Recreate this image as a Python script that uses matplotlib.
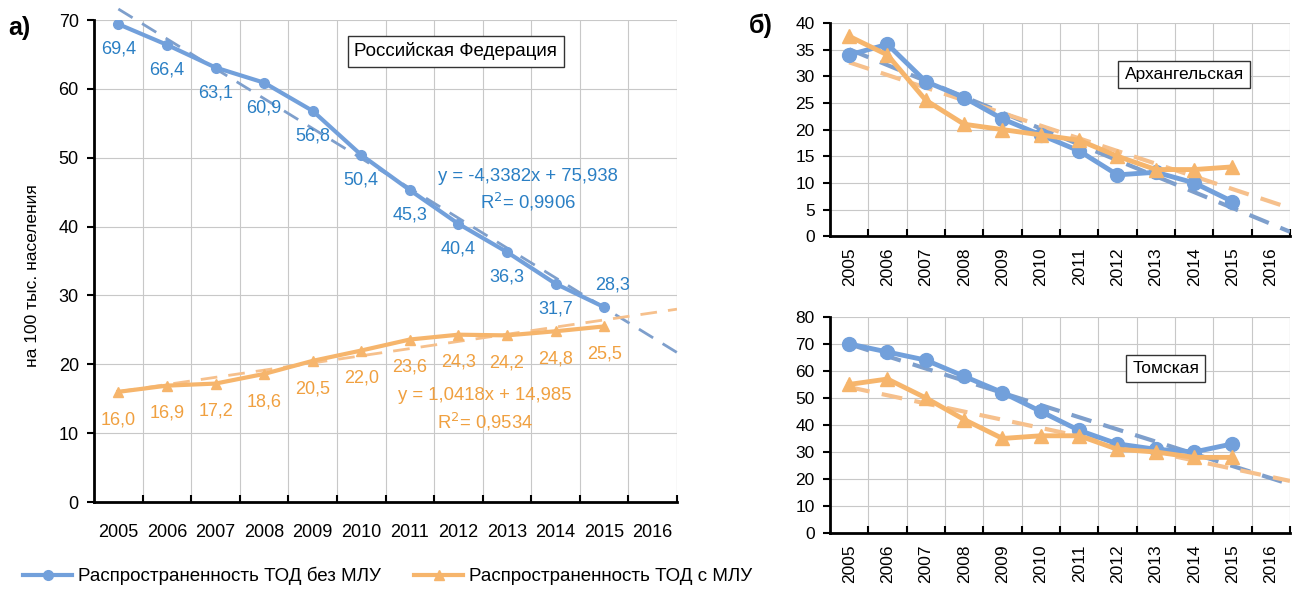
import numpy as np
import matplotlib.pyplot as plt
from matplotlib.lines import Line2D

# ==========================================
# ДАННЫЕ
# ==========================================
years = ['2005', '2006', '2007', '2008', '2009', '2010',
         '2011', '2012', '2013', '2014', '2015', '2016']

# а) Российская Федерация
rf_bez_mlu = [69.4, 66.4, 63.1, 60.9, 56.8, 50.4, 45.3, 40.4, 36.3, 31.7, 28.3]
rf_s_mlu = [16.0, 16.9, 17.2, 18.6, 20.5, 22.0, 23.6, 24.3, 24.2, 24.8, 25.5]
rf_trend_bez = (-4.3382, 75.938, 0.9906)
rf_trend_s = (1.0418, 14.985, 0.9534)

# б) Архангельская
arh_bez_mlu = [34, 36, 29, 26, 22, 19, 16, 11.5, 12, 10, 6.5]
arh_s_mlu = [37.5, 34, 25.5, 21, 20, 19, 18, 15, 12.5, 12.5, 13]

# б) Томская
tom_bez_mlu = [70, 67, 64, 58, 52, 45, 38, 33, 31, 30, 33]
tom_s_mlu = [55, 57, 50, 42, 35, 36, 36, 31, 30, 28, 28]

# ==========================================
# СТИЛЬ
# ==========================================
plt.rcParams['font.family'] = ['Liberation Sans', 'DejaVu Sans']
BLUE = '#72a0db'
BLUE_TXT = '#2a7fc4'
BLUE_TREND = '#7e9fcc'
ORANGE = '#f6b56c'
ORANGE_TXT = '#f0a040'
ORANGE_TREND = '#f6c08c'
GRID = '#c8c8c8'


def fmt(v):
    return f"{v:.1f}".replace('.', ',')


def setup_axes(ax, ymax, ystep, rotate, fs):
    n = len(years)
    x = np.arange(1, n + 1)
    ax.set_xlim(0.5, n + 0.5)
    ax.set_ylim(0, ymax)
    ax.set_xticks(x)
    ax.set_xticklabels(years, rotation=90 if rotate else 0, fontsize=fs)
    ax.set_xticks(np.arange(1.5, n + 0.6, 1), minor=True)
    ax.set_yticks(np.arange(0, ymax + 0.1, ystep))
    ax.tick_params(axis='y', labelsize=fs, length=5, width=1.5, direction='out', pad=6)
    ax.tick_params(axis='x', which='major', length=0, pad=8 if rotate else 16)
    ax.tick_params(axis='x', which='minor', length=5, width=1.5, direction='in')
    ax.grid(True, which='minor', axis='x', color=GRID, linewidth=0.8)
    ax.grid(True, which='major', axis='y', color=GRID, linewidth=0.8)
    ax.axvline(n + 0.5, color=GRID, linewidth=0.8)
    for s in ['top', 'right']:
        ax.spines[s].set_visible(False)
    for s in ['left', 'bottom']:
        ax.spines[s].set_linewidth(2)
    ax.set_axisbelow(True)


def box_text(ax, x, y, txt, fs):
    ax.text(x, y, txt, transform=ax.transAxes, ha='center', va='center', fontsize=fs,
            bbox=dict(boxstyle='square,pad=0.35', facecolor='white', edgecolor='#333333',
                      linewidth=1.0), zorder=6)


fig = plt.figure(figsize=(12.94, 5.89), dpi=100)

# ---------------- а) РФ ----------------
ax = fig.add_axes([0.0727, 0.1477, 0.4505, 0.8183])
setup_axes(ax, 70, 10, False, 13)
x = np.arange(1, len(rf_bez_mlu) + 1)

ax.plot(x, rf_bez_mlu, color=BLUE, linewidth=3, marker='o', markersize=7, zorder=4)
ax.plot(x, rf_s_mlu, color=ORANGE, linewidth=3, marker='^', markersize=7, zorder=4)

xt = np.array([1, 12.5])
k, b, r2 = rf_trend_bez
ax.plot(xt, k * xt + b, color=BLUE_TREND, linewidth=2, dashes=(6, 4), zorder=3, clip_on=False)
k2, b2, r22 = rf_trend_s
ax.plot(xt, k2 * xt + b2, color=ORANGE_TREND, linewidth=2, dashes=(6, 4), zorder=3)

for i, v in enumerate(rf_bez_mlu):
    dy = 16 if i == len(rf_bez_mlu) - 1 else -18
    dx = 6 if i == len(rf_bez_mlu) - 1 else 0
    ax.annotate(fmt(v), (x[i], v), xytext=(dx, dy), textcoords='offset points',
                ha='center', va='center', fontsize=13, color=BLUE_TXT, zorder=5)
for i, v in enumerate(rf_s_mlu):
    ax.annotate(fmt(v), (x[i], v), xytext=(0, -20), textcoords='offset points',
                ha='center', va='center', fontsize=13, color=ORANGE_TXT, zorder=5)

ax.text(0.745, 0.675, f"y = {k:.4f}x + {b:.3f}".replace('.', ','), transform=ax.transAxes,
        ha='center', va='center', fontsize=13.3, color=BLUE_TXT)
ax.text(0.745, 0.623, "R$^{2}$= " + f"{r2:.4f}".replace('.', ','), transform=ax.transAxes,
        ha='center', va='center', fontsize=13.3, color=BLUE_TXT)
ax.text(0.67, 0.221, f"y = {k2:.4f}x + {b2:.3f}".replace('.', ','), transform=ax.transAxes,
        ha='center', va='center', fontsize=13.3, color=ORANGE_TXT)
ax.text(0.67, 0.166, "R$^{2}$= " + f"{r22:.4f}".replace('.', ','), transform=ax.transAxes,
        ha='center', va='center', fontsize=13.3, color=ORANGE_TXT)

box_text(ax, 0.62, 0.935, "Российская Федерация", 13.5)
ax.set_ylabel("на 100 тыс. населения", fontsize=12.5)
ax.yaxis.set_label_coords(-0.092, 0.47)

# ---------------- б) регионы ----------------
regions = [
    ([0.6414, 0.599, 0.3555, 0.362], arh_bez_mlu, arh_s_mlu, 40, 5, "Архангельская", (0.77, 0.76)),
    ([0.6414, 0.095, 0.3555, 0.367], tom_bez_mlu, tom_s_mlu, 80, 10, "Томская", (0.73, 0.76)),
]
for rect, bez, s, ymax, ystep, name, pos in regions:
    a = fig.add_axes(rect)
    setup_axes(a, ymax, ystep, True, 12.5)
    xr = np.arange(1, len(bez) + 1)
    a.plot(xr, bez, color=BLUE, linewidth=3.5, marker='o', markersize=10, zorder=4)
    a.plot(xr, s, color=ORANGE, linewidth=3.5, marker='^', markersize=10, zorder=4)
    for vals, col in [(bez, BLUE_TREND), (s, ORANGE_TREND)]:
        kk, bb = np.polyfit(xr, vals, 1)
        a.plot(xt, kk * xt + bb, color=col, linewidth=3, dashes=(5, 3), zorder=3)
    box_text(a, pos[0], pos[1], name, 12.5)

fig.text(0.006, 0.952, "а)", fontsize=18, fontweight='bold', ha='left', va='center')
fig.text(0.579, 0.957, "б)", fontsize=18, fontweight='bold', ha='left', va='center')

handles = [
    Line2D([], [], color=BLUE, linewidth=3, marker='o', markersize=7),
    Line2D([], [], color=ORANGE, linewidth=3, marker='^', markersize=7),
]
fig.legend(handles, ["Распространенность ТОД без МЛУ", "Распространенность ТОД с МЛУ"],
           loc='center', bbox_to_anchor=(0.2995, 0.022), ncol=2, frameon=False,
           fontsize=13.5, handlelength=2.6, handletextpad=0.3, columnspacing=1.8)

fig.savefig("out.png", dpi=100)
